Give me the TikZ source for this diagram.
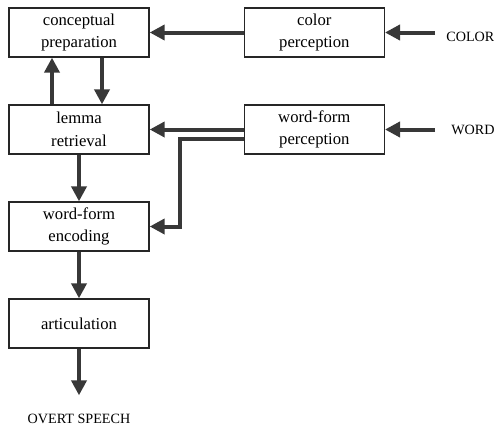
\documentclass[tikz,border=0pt]{standalone}
\usepackage{fontspec}
\setmainfont{Liberation Serif}
\usetikzlibrary{arrows.meta, positioning, calc}

\begin{document}
\begin{tikzpicture}[node distance=28pt and 56.4pt, every node/.style={align=center, font=\fontsize{10}{13.5}\selectfont}]

        % Stile
        \tikzstyle{stage}=[draw=black!85, line width=0.8pt, fill=white, minimum width=84pt, minimum height=29.4pt, inner sep=2pt]
        \tikzstyle{input}=[inner sep=0pt, font=\fontsize{8.5}{10}\selectfont]
        \tikzstyle{flow}=[draw=black!78, line width=2.4pt, -{Triangle[length=9pt, width=9pt]}]

        \useasboundingbox (-47.4pt,19.5pt) rectangle (249pt,-234.9pt);

        % Stufen der Produktion
        \node[stage] (concept) {conceptual\\preparation};
        \node[stage, below=of concept] (lemma) {lemma\\retrieval};
        \node[stage, below=of lemma] (encoding) {word-form\\encoding};
        \node[stage, below=of encoding] (artic) {articulation};
        \node[input, below=39pt of artic] (speech) {OVERT SPEECH};

        % Wahrnehmung
        \node[stage, right=of concept] (colorperc) {color\\perception};
        \node[stage, right=of lemma] (wordperc) {word-form\\perception};
        \node[input, right=36.6pt of colorperc, yshift=-2.4pt] (colorin) {COLOR};
        \node[input, right=39.6pt of wordperc] (wordin) {WORD};

        \coordinate (bend) at ($(encoding.east)+(18pt,0)$);

        % Eingaenge
        \draw[flow, shorten <=6.6pt] (colorin.west |- colorperc) -- (colorperc.east);
        \draw[flow, shorten <=9.6pt] (wordin.west) -- (wordperc.east);

        % Verbindungen
        \draw[flow] (colorperc.west) -- (concept.east);
        \draw[flow] ([xshift=13.8pt]concept.south) -- ([xshift=13.8pt]lemma.north);
        \draw[flow] ([xshift=-16.2pt]lemma.north) -- ([xshift=-16.2pt]concept.south);
        \draw[flow] (wordperc.west) -- (lemma.east);
        \draw[flow] ([yshift=-5.4pt]wordperc.west) -| (bend) -- (encoding.east);
        \draw[flow] (lemma) -- (encoding);
        \draw[flow] (encoding) -- (artic);
        \draw[flow, shorten >=11pt] (artic.south) -- (speech.north);
\end{tikzpicture}
\end{document}
